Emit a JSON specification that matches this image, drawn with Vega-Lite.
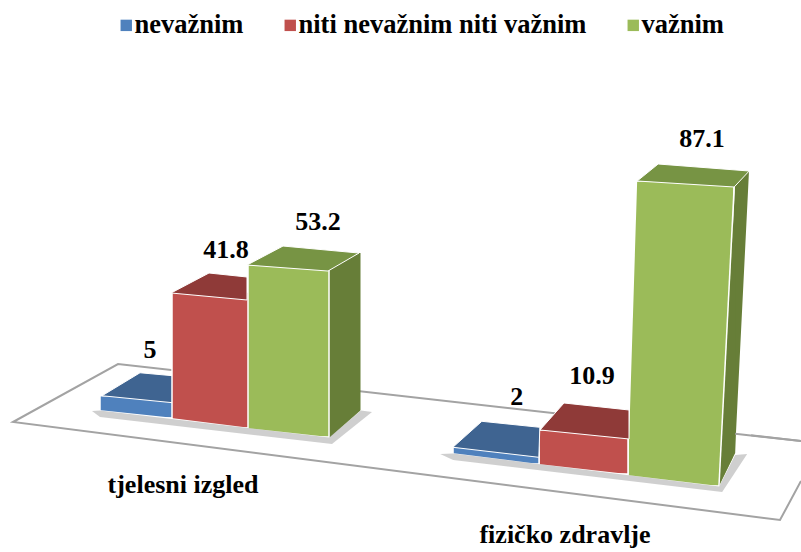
{"$schema":"https://vega.github.io/schema/vega-lite/v6.json","width":801,"height":552,"padding":0,"autosize":{"type":"none"},"background":"white","config":{"view":{"stroke":null},"text":{"font":"Liberation Serif","fontWeight":"bold","fontSize":26,"color":"#000000"}},
"data":{"values":[
{"kategorija":"tjelesni izgled","serija":"nevažnim","vrijednost":5},
{"kategorija":"tjelesni izgled","serija":"niti nevažnim niti važnim","vrijednost":41.8},
{"kategorija":"tjelesni izgled","serija":"važnim","vrijednost":53.2},
{"kategorija":"fizičko zdravlje","serija":"nevažnim","vrijednost":2},
{"kategorija":"fizičko zdravlje","serija":"niti nevažnim niti važnim","vrijednost":10.9},
{"kategorija":"fizičko zdravlje","serija":"važnim","vrijednost":87.1}]},
"resolve":{"scale":{"x":"independent","y":"independent"}},
"layer":[
{"transform":[{"filter":"datum.kategorija==='tjelesni izgled'"}],
"encoding":{"x":{"field":"serija","type":"nominal","axis":null,"sort":null,"scale":{"type":"band","domain":["nevažnim","niti nevažnim niti važnim","važnim"],"range":[100,328],"paddingInner":0,"paddingOuter":0}},"y":{"field":"vrijednost","type":"quantitative","axis":null,"scale":{"domain":[0,100],"range":[400,95],"nice":false}}},
"layer":[
{"transform":[{"filter":"datum.serija==='nevažnim'"}],"mark":{"type":"point","shape":"M6.63 .41L-.2 -.36L-1.25 .22L6.42 1.2L6.63 .81","size":40000,"filled":false,"stroke":"#A3A3A3","strokeWidth":2,"opacity":1},"encoding":{"y":{"datum":0,"type":"quantitative"}}},
{"transform":[{"filter":"datum.serija==='nevažnim'"}],"mark":{"type":"bar","width":74,"xOffset":-1,"yOffset":11,"y2Offset":18,"stroke":"white","strokeWidth":1.5},"encoding":{"y2":{"datum":0},"color":{"field":"serija","type":"nominal","scale":{"domain":["nevažnim","niti nevažnim niti važnim","važnim"],"range":["#4F81BD","#C0504D","#9BBB59"]},"legend":{"title":null,"orient":"none","legendX":113,"legendY":12,"direction":"horizontal","columns":3,"columnPadding":33,"symbolType":"square","symbolSize":130,"symbolStrokeWidth":0,"labelFont":"Liberation Serif","labelFontWeight":"bold","labelFontSize":26.5,"labelColor":"#000000","labelOffset":-5,"labelLimit":400}}}},
{"transform":[{"filter":"datum.serija==='nevažnim'"}],"mark":{"type":"point","shape":"M-.39 .1L.37 .18L.37 .2L-.39 .2Z","size":40000,"filled":true,"fill":"white","opacity":1,"strokeWidth":0},"encoding":{"y":{"datum":0,"type":"quantitative"}}},
{"transform":[{"filter":"datum.serija==='nevažnim'"}],"mark":{"type":"point","shape":"M-.36 0L.35 .07L.35 -.2L.02 -.23Z","size":40000,"filled":true,"fill":"#3F6491","stroke":"white","strokeWidth":1,"opacity":1,"yOffset":11}},
{"transform":[{"filter":"datum.serija==='niti nevažnim niti važnim'"}],"mark":{"type":"bar","width":77,"xOffset":-3.5,"yOffset":19.5,"y2Offset":28,"stroke":"white","strokeWidth":1.5},"encoding":{"y2":{"datum":0},"color":{"field":"serija","type":"nominal"}}},
{"transform":[{"filter":"datum.serija==='niti nevažnim niti važnim'"}],"mark":{"type":"point","shape":"M-.43 .18L.37 .28L.37 .3L-.43 .3Z","size":40000,"filled":true,"fill":"white","opacity":1,"strokeWidth":0},"encoding":{"y":{"datum":0,"type":"quantitative"}}},
{"transform":[{"filter":"datum.serija==='niti nevažnim niti važnim'"}],"mark":{"type":"point","shape":"M-.43 .01L.33 .08L.33 -.15L-.05 -.19Z","size":40000,"filled":true,"fill":"#8F3A38","stroke":"white","strokeWidth":1,"opacity":1,"yOffset":19.5}},
{"transform":[{"filter":"datum.serija==='važnim'"}],"mark":{"type":"bar","width":32,"xOffset":54.5,"yOffset":15.3,"y2Offset":37,"fill":"#677E38"},"encoding":{"y2":{"datum":0}}},
{"transform":[{"filter":"datum.serija==='važnim'"}],"mark":{"type":"point","shape":"M.71 .1L.395 .375L.395 .39L.72 .39L.72 .1Z","size":40000,"filled":true,"fill":"white","opacity":1,"strokeWidth":0},"encoding":{"y":{"datum":0,"type":"quantitative"}}},
{"transform":[{"filter":"datum.serija==='važnim'"}],"mark":{"type":"bar","width":81,"xOffset":-1.5,"yOffset":27.3,"y2Offset":37,"stroke":"white","strokeWidth":1.5},"encoding":{"y2":{"datum":0},"color":{"field":"serija","type":"nominal"}}},
{"transform":[{"filter":"datum.serija==='važnim'"}],"mark":{"type":"point","shape":"M-.43 .28L.39 .37L.39 .385L-.43 .385Z","size":40000,"filled":true,"fill":"white","opacity":1,"strokeWidth":0},"encoding":{"y":{"datum":0,"type":"quantitative"}}},
{"transform":[{"filter":"datum.serija==='važnim'"}],"mark":{"type":"point","shape":"M-.43 0L.38 .06L.69 -.12L-.07 -.19Z","size":40000,"filled":true,"fill":"#779444","stroke":"white","strokeWidth":1,"opacity":1,"yOffset":27.3}},
{"transform":[{"filter":"datum.serija==='nevažnim'"}],"mark":{"type":"point","shape":"M-.46 .11L-.38 .105L1.91 .375L2.23 .105L2.34 .12L1.94 .44L-.38 .17Z","size":40000,"filled":true,"fill":"#888888","opacity":0.4,"strokeWidth":0},"encoding":{"y":{"datum":0,"type":"quantitative"}}},
{"transform":[{"filter":"datum.serija==='nevažnim'"}],"mark":{"type":"text","xOffset":12,"yOffset":-34.75},"encoding":{"text":{"field":"vrijednost","type":"quantitative"}}},
{"transform":[{"filter":"datum.serija==='niti nevažnim niti važnim'"}],"mark":{"type":"text","xOffset":12,"yOffset":-22.5},"encoding":{"text":{"field":"vrijednost","type":"quantitative"}}},
{"transform":[{"filter":"datum.serija==='važnim'"}],"mark":{"type":"text","xOffset":28,"yOffset":-15.7},"encoding":{"text":{"field":"vrijednost","type":"quantitative"}}},
{"transform":[{"filter":"datum.serija==='niti nevažnim niti važnim'"}],"mark":{"type":"text","xOffset":-31,"yOffset":85},"encoding":{"y":{"datum":0,"type":"quantitative"},"text":{"field":"kategorija","type":"nominal"}}}
]},
{"transform":[{"filter":"datum.kategorija==='fizičko zdravlje'"}],
"encoding":{"x":{"field":"serija","type":"nominal","axis":null,"sort":null,"scale":{"type":"band","domain":["nevažnim","niti nevažnim niti važnim","važnim"],"range":[452,721],"paddingInner":0,"paddingOuter":0}},"y":{"field":"vrijednost","type":"quantitative","axis":null,"scale":{"domain":[0,100],"range":[450,115],"nice":false}}},
"layer":[
{"transform":[{"filter":"datum.serija==='važnim'"}],"mark":{"type":"bar","width":30,"xOffset":57.8,"yOffset":12.8,"y2Offset":36,"fill":"#677E38"},"encoding":{"y2":{"datum":0}}},
{"transform":[{"filter":"datum.serija==='važnim'"}],"mark":{"type":"point","shape":"M.728 -.09L.588 2.72L.428 3.05L.428 3.06L.75 3.06L.75 -.09Z","size":40000,"filled":true,"fill":"white","opacity":1,"strokeWidth":0,"yOffset":22.8}},
{"transform":[{"filter":"datum.serija==='važnim'"}],"mark":{"type":"bar","width":106,"xOffset":4.8,"yOffset":22.8,"y2Offset":36,"stroke":"white","strokeWidth":1.5},"encoding":{"y2":{"datum":0},"color":{"field":"serija","type":"nominal"}}},
{"transform":[{"filter":"datum.serija==='važnim'"}],"mark":{"type":"point","shape":"M-.5 -.03L-.39 -.03L-.39 0L-.482 2.94L-.5 2.94Z","size":40000,"filled":true,"fill":"white","opacity":1,"strokeWidth":0,"yOffset":22.8}},
{"transform":[{"filter":"datum.serija==='važnim'"}],"mark":{"type":"point","shape":"M.6 2.71L.6 3.07L.428 3.07L.428 3.05L.588 2.72Z","size":40000,"filled":true,"fill":"white","opacity":1,"strokeWidth":0,"yOffset":22.8}},
{"transform":[{"filter":"datum.serija==='važnim'"}],"mark":{"type":"point","shape":"M.59 .05L.59 2.72L.428 3.05Z","size":40000,"filled":true,"fill":"#677E38","opacity":1,"strokeWidth":0,"yOffset":22.8}},
{"transform":[{"filter":"datum.serija==='važnim'"}],"mark":{"type":"point","shape":"M.58 .06L.428 3.05","size":40000,"filled":false,"stroke":"white","strokeWidth":1.5,"opacity":1,"yOffset":22.8}},
{"transform":[{"filter":"datum.serija==='važnim'"}],"mark":{"type":"point","shape":"M-.49 .25L.428 .36L.428 .38L-.49 .38Z","size":40000,"filled":true,"fill":"white","opacity":1,"strokeWidth":0},"encoding":{"y":{"datum":0,"type":"quantitative"}}},
{"transform":[{"filter":"datum.serija==='važnim'"}],"mark":{"type":"point","shape":"M-.39 0L.58 .06L.73 -.1L-.18 -.17Z","size":40000,"filled":true,"fill":"#779444","stroke":"white","strokeWidth":1,"opacity":1,"yOffset":22.8}},
{"transform":[{"filter":"datum.serija==='važnim'"}],"mark":{"type":"point","shape":"M.59 -.163L1.25 -.09","size":40000,"filled":false,"stroke":"#A3A3A3","strokeWidth":2,"opacity":1},"encoding":{"y":{"datum":0,"type":"quantitative"}}},
{"transform":[{"filter":"datum.serija==='niti nevažnim niti važnim'"}],"mark":{"type":"bar","width":89,"xOffset":-3,"yOffset":16.5,"y2Offset":24,"stroke":"white","strokeWidth":1.5},"encoding":{"y2":{"datum":0},"color":{"field":"serija","type":"nominal"}}},
{"transform":[{"filter":"datum.serija==='niti nevažnim niti važnim'"}],"mark":{"type":"point","shape":"M-.48 .14L.405 .24L.405 .26L-.48 .26Z","size":40000,"filled":true,"fill":"white","opacity":1,"strokeWidth":0},"encoding":{"y":{"datum":0,"type":"quantitative"}}},
{"transform":[{"filter":"datum.serija==='niti nevažnim niti važnim'"}],"mark":{"type":"point","shape":"M-.465 0L.425 .09L.425 -.2L-.225 -.27Z","size":40000,"filled":true,"fill":"#8F3A38","stroke":"white","strokeWidth":1,"opacity":1,"yOffset":16.5}},
{"transform":[{"filter":"datum.serija==='nevažnim'"}],"mark":{"type":"bar","width":86,"xOffset":-0.8,"yOffset":4,"y2Offset":14,"stroke":"white","strokeWidth":1.5},"encoding":{"y2":{"datum":0},"color":{"field":"serija","type":"nominal"}}},
{"transform":[{"filter":"datum.serija==='nevažnim'"}],"mark":{"type":"point","shape":"M-.45 .03L.42 .14L.42 .16L-.45 .16Z","size":40000,"filled":true,"fill":"white","opacity":1,"strokeWidth":0},"encoding":{"y":{"datum":0,"type":"quantitative"}}},
{"transform":[{"filter":"datum.serija==='nevažnim'"}],"mark":{"type":"point","shape":"M-.44 0L.42 .1L.43 -.2L-.15 -.26Z","size":40000,"filled":true,"fill":"#3F6491","stroke":"white","strokeWidth":1,"opacity":1,"yOffset":4}},
{"transform":[{"filter":"datum.serija==='važnim'"}],"mark":{"type":"point","shape":"M-2.36 .04L-2.23 .035L.43 .365L.59 .05L.71 .04L.46 .42L-2.23 .1Z","size":40000,"filled":true,"fill":"#888888","opacity":0.4,"strokeWidth":0},"encoding":{"y":{"datum":0,"type":"quantitative"}}},
{"transform":[{"filter":"datum.serija==='nevažnim'"}],"mark":{"type":"text","xOffset":20,"yOffset":-46.3},"encoding":{"text":{"field":"vrijednost","type":"quantitative"}}},
{"transform":[{"filter":"datum.serija==='niti nevažnim niti važnim'"}],"mark":{"type":"text","xOffset":5.5,"yOffset":-37.5},"encoding":{"text":{"field":"vrijednost","type":"quantitative"}}},
{"transform":[{"filter":"datum.serija==='važnim'"}],"mark":{"type":"text","xOffset":25.8,"yOffset":-19.2},"encoding":{"text":{"field":"vrijednost","type":"quantitative"}}},
{"transform":[{"filter":"datum.serija==='niti nevažnim niti važnim'"}],"mark":{"type":"text","xOffset":-21.5,"yOffset":85},"encoding":{"y":{"datum":0,"type":"quantitative"},"text":{"field":"kategorija","type":"nominal"}}}
]}
]}
